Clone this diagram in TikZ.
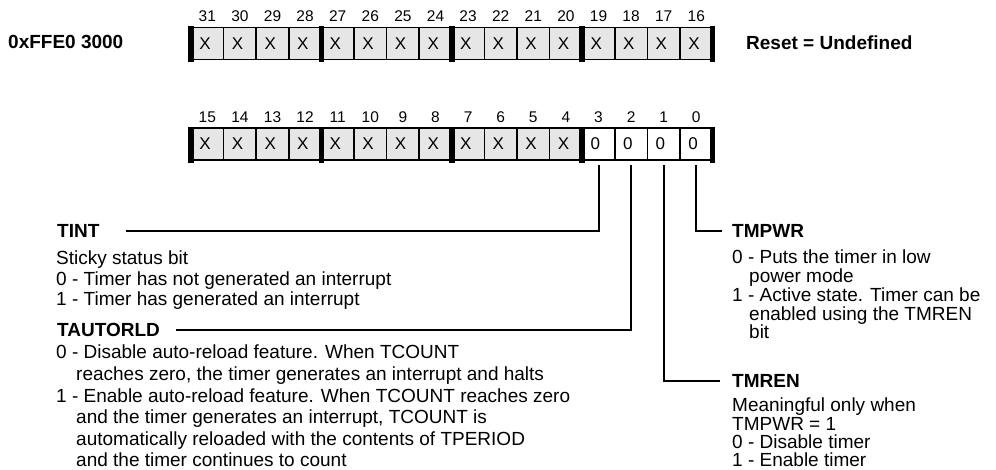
\documentclass[tikz,border=0pt]{standalone}
\usepackage{fontspec}
\setmainfont{Liberation Sans}
\usetikzlibrary{positioning}
\definecolor{cCell}{HTML}{E6E6E6}

\begin{document}
\begin{tikzpicture}[x=1pt, y=-1pt, font=\fontsize{19}{20.5}\selectfont,
  cell/.style={draw, fill=#1, line width=1.5pt, minimum width=32.6pt, minimum height=32pt, inner sep=0pt, outer sep=0pt,
               text width=16pt, align=left, font=\fontsize{17}{17}\selectfont},
  bitno/.style={anchor=base, inner sep=0pt, font=\fontsize{15.5}{16}\selectfont},
  fld/.style={anchor=west, inner sep=0pt, font=\fontsize{19}{20}\selectfont\bfseries},
  desc/.style={anchor=north west, inner sep=0pt, align=left, font=\fontsize{19}{#1}\selectfont},
  conn/.style={line width=2pt},
  bar/.style={fill=black}]
  \useasboundingbox (0,0) rectangle (996,470);
  \foreach \b in {31,...,16}{
    \pgfmathtruncatemacro\i{31-\b}
    \node[cell=cCell] (c\b) at (191+32.6*\i+16.3,43.5) {X};
    \node[bitno] at ([yshift=5.5pt]c\b.north) {\b};}
  \foreach \b in {15,...,0}{
    \pgfmathtruncatemacro\i{15-\b}
    \ifnum\b>3 \def\v{X}\def\f{cCell}\else\def\v{0}\def\f{white}\fi
    \node[cell=\f] (c\b) at (191+32.6*\i+16.3,144) {\v};
    \node[bitno] at ([yshift=5.5pt]c\b.north) {\b};}
  \foreach \g in {0,...,4} \foreach \y in {43.5,144}
    \fill[bar] (191+130.4*\g-2.75,\y-17) rectangle ++(5.5,36);
  \node[fld] (addr) at (8,42) {0xFFE0 3000};
  \node[fld] (reset) at (746,43) {Reset = Undefined};
  \node[fld] (tint) at (57,231) {TINT};
  \node[desc=20.5] (tintd) at (56,251)
       {Sticky status bit\\
        0 - Timer has not generated an interrupt\\
        1 - Timer has generated an interrupt};
  \node[fld] (taut) at (57,330) {TAUTORLD};
  \node[desc=21.6] (tautd) at (56,345)
       {0 - Disable auto-reload feature. When TCOUNT\\
        \hspace*{20pt}reaches zero, the timer generates an interrupt and halts\\
        1 - Enable auto-reload feature. When TCOUNT reaches zero\\
        \hspace*{20pt}and the timer generates an interrupt, TCOUNT is\\
        \hspace*{20pt}automatically reloaded with the contents of TPERIOD\\
        \hspace*{20pt}and the timer continues to count};
  \node[fld] (tmpwr) at (732,231) {TMPWR};
  \node[desc=18.7] (tmpwrd) at (732,250)
       {0 - Puts the timer in low\\
        \hspace*{17pt}power mode\\
        1 - Active state. Timer can be\\
        \hspace*{17pt}enabled using the TMREN\\
        \hspace*{17pt}bit};
  \node[fld] (tmren) at (732,381) {TMREN};
  \node[desc=18.2] (tmrend) at (732,398)
       {Meaningful only when\\
        TMPWR = 1\\
        0 - Disable timer\\
        1 - Enable timer};
  \draw[conn] ([yshift=-5pt]c3.south) |- ([xshift=26pt]tint.east);
  \draw[conn] ([yshift=-5pt]c2.south) |- ([xshift=16pt]taut.east);
  \draw[conn] ([yshift=-5pt]c1.south) |- ([xshift=-12pt]tmren.west);
  \draw[conn] ([yshift=-5pt]c0.south) |- ([xshift=-10pt]tmpwr.west);
\end{tikzpicture}
\end{document}
